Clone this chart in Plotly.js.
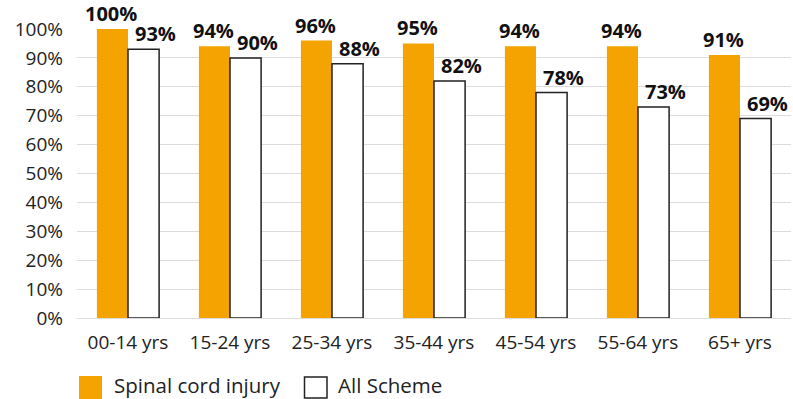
<!DOCTYPE html>
<html>
<head>
<meta charset="utf-8">
<script src="https://cdn.plot.ly/plotly-3.0.1.min.js"></script>
<style>html,body{margin:0;padding:0;background:#fff}#chart{width:793px;height:399px}</style>
</head>
<body>
<div id="chart"></div>
<script>
// Age groups and share of participants per group
const ageGroups = ['00-14 yrs', '15-24 yrs', '25-34 yrs', '35-44 yrs', '45-54 yrs', '55-64 yrs', '65+ yrs'];
const spinalCordInjury = [100, 94, 96, 95, 94, 94, 91];
const allScheme = [93, 90, 88, 82, 78, 73, 69];
const seriesNames = ['Spinal cord injury', 'All Scheme'];
const yTicks = [0, 10, 20, 30, 40, 50, 60, 70, 80, 90, 100];

const ORANGE = '#F5A300';
const FONT = 'Open Sans, sans-serif';

const traces = [
  {
    type: 'bar', name: seriesNames[0], x: ageGroups, y: spinalCordInjury,
    marker: {color: ORANGE, line: {width: 0}}, hoverinfo: 'skip'
  },
  {
    type: 'bar', name: seriesNames[1], x: ageGroups, y: allScheme,
    marker: {color: '#ffffff', line: {color: '#222', width: 1.5}}, hoverinfo: 'skip'
  }
];

// Value labels sit on top of each bar, nudged off to the right for the outlined series
const labelFont = {family: FONT, size: 20, color: '#111', weight: 700};
const valueLabels = [];
[[spinalCordInjury, -17], [allScheme, 27]].forEach(([vals, shift]) => {
  vals.forEach((v, i) => valueLabels.push({
    xref: 'x', yref: 'y', x: ageGroups[i], y: v, xshift: shift, yshift: 0,
    xanchor: 'center', yanchor: 'bottom', showarrow: false,
    text: v + '%', font: labelFont
  }));
});

// Legend drawn as large swatches below the plot area
const W = 714, H = 289;
const px = v => v / W;
const py = v => -v / H;
const shapes = [
  {type: 'rect', xref: 'paper', yref: 'paper', x0: px(2), x1: px(25), y0: py(81), y1: py(58),
   fillcolor: ORANGE, line: {width: 0}},
  {type: 'rect', xref: 'paper', yref: 'paper', x0: px(227.5), x1: px(250), y0: py(80), y1: py(59),
   fillcolor: '#fff', line: {color: '#222', width: 1.5}}
];
const legendText = [
  {xref: 'paper', yref: 'paper', x: px(35), y: py(67), xanchor: 'left', yanchor: 'middle',
   text: seriesNames[0], showarrow: false, font: {family: FONT, size: 20.5, color: '#222'}},
  {xref: 'paper', yref: 'paper', x: px(259), y: py(67), xanchor: 'left', yanchor: 'middle',
   text: seriesNames[1], showarrow: false, font: {family: FONT, size: 20.5, color: '#222'}}
];

const layout = {
  width: 793, height: 399,
  margin: {l: 77, r: 2, t: 29, b: 81},
  paper_bgcolor: '#fff', plot_bgcolor: '#fff',
  barmode: 'group', bargap: 0.39, bargroupgap: 0,
  showlegend: false,
  font: {family: FONT, size: 17, color: '#222'},
  xaxis: {
    type: 'category', showgrid: false, showline: false, ticks: '',
    ticklabelstandoff: 11,
    tickfont: {family: FONT, size: 19, color: '#222'}
  },
  yaxis: {
    range: [0, 100], tickvals: yTicks, ticktext: yTicks.map(v => v + '%'),
    showgrid: true, gridcolor: '#dcdcdc', gridwidth: 1,
    zeroline: true, zerolinecolor: '#dcdcdc', zerolinewidth: 1,
    showline: false, ticks: '', ticklabelstandoff: 13,
    tickfont: {family: FONT, size: 19, color: '#222'}
  },
  shapes: shapes,
  annotations: valueLabels.concat(legendText)
};

Plotly.newPlot('chart', traces, layout, {staticPlot: true, displayModeBar: false});
</script>
</body>
</html>
